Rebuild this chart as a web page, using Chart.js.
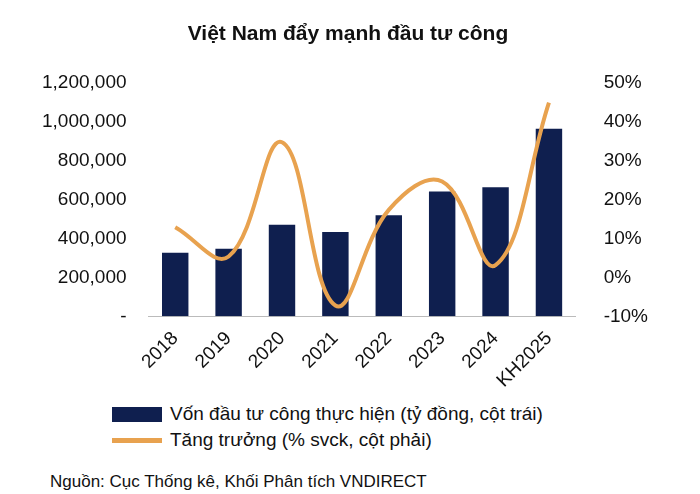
<!DOCTYPE html>
<html><head><meta charset="utf-8">
<script src="https://cdn.jsdelivr.net/npm/chart.js@4"></script>
<style>
body{margin:0;background:#fff;font-family:"Liberation Sans",Arial,sans-serif;}
#wrap{position:relative;width:700px;height:400px;}
.leg{position:absolute;left:112px;font-size:19px;color:#111;display:flex;align-items:center;}
.leg span.b{display:inline-block;width:50px;height:15px;background:#0f1f4f;margin-right:8px;}
.leg span.l{display:inline-block;width:50px;height:5px;background:#e8a24f;margin-right:8px;}
#src{position:absolute;left:50px;top:472px;font-size:17px;color:#111;}
</style></head>
<body>
<div id="wrap"><canvas id="c" width="700" height="395"></canvas></div>
<div class="leg" style="top:403px"><span class="b"></span>Vốn đầu tư công thực hiện (tỷ đồng, cột trái)</div>
<div class="leg" style="top:429px"><span class="l"></span>Tăng trưởng (% svck, cột phải)</div>
<div id="src">Nguồn: Cục Thống kê, Khối Phân tích VNDIRECT</div>
<script>
const categories = ['2018','2019','2020','2021','2022','2023','2024','KH2025'];
const vonDauTu = [327000, 348000, 472000, 434000, 520000, 643000, 665000, 965000];
const tangTruong = [12.9, 5.4, 34.8, -7.2, 17.4, 24.7, 3.2, 45.0];

new Chart(document.getElementById('c'), {
  data: {
    labels: categories,
    datasets: [
      {type:'line', data: tangTruong, yAxisID:'y1', borderColor:'#e8a24f', borderWidth:4,
       pointRadius:0, tension:0.4, order:0},
      {type:'bar', data: vonDauTu, yAxisID:'y', backgroundColor:'#0f1f4f', barPercentage:0.55, categoryPercentage:0.9, order:1}
    ]
  },
  options: {
    responsive:false, animation:false,
    layout:{padding:{left:28,right:32,top:6}},
    plugins:{
      legend:{display:false},
      title:{display:true, text:'Việt Nam đẩy mạnh đầu tư công', color:'#111',
        font:{family:'Liberation Sans', size:21, weight:'bold'}, padding:{top:16,bottom:36}}
    },
    scales:{
      x:{grid:{display:false}, border:{color:'#bbb'},
        ticks:{color:'#111', maxRotation:45, minRotation:45, font:{family:'Liberation Sans', size:19}}},
      y:{min:0, max:1200000, grid:{display:false}, border:{display:false},
        ticks:{stepSize:200000, color:'#111', padding:14, font:{family:'Liberation Sans', size:19},
          callback:v=> v===0 ? '-' : v.toLocaleString('en-US')}},
      y1:{position:'right', min:-10, max:50, grid:{display:false}, border:{display:false},
        ticks:{stepSize:10, color:'#111', padding:20, font:{family:'Liberation Sans', size:19}, callback:v=>v+'%'}}
    }
  }
});
</script>
</body></html>
